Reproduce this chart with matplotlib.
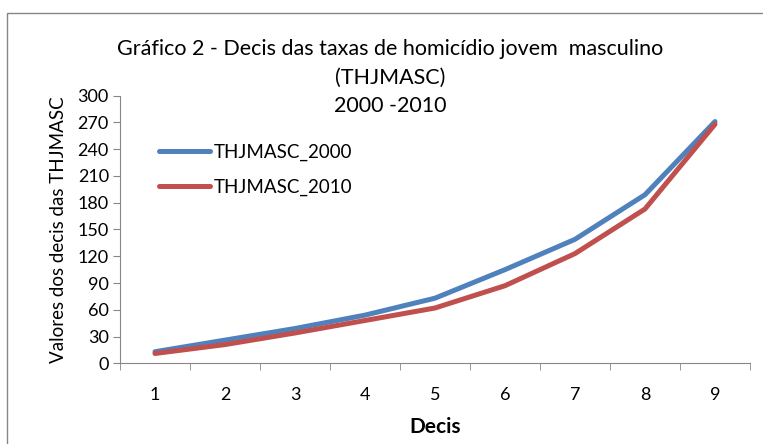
import numpy as np
import matplotlib
matplotlib.use('Agg')
import matplotlib.pyplot as plt
from matplotlib.patches import Rectangle

plt.rcParams['font.family'] = ['Lato', 'DejaVu Sans']

decis = [1, 2, 3, 4, 5, 6, 7, 8, 9]
thjmasc_2000 = [13, 26, 39, 54, 73, 105, 139, 189, 271]
thjmasc_2010 = [11, 21, 34, 48, 62, 87, 123, 173, 268]
yticks = list(range(0, 301, 30))

fig = plt.figure(figsize=(7.63, 4.44), dpi=100)
ax = fig.add_axes([120/763, 1 - 363.3/444, 630/763, 267.6/444])

ax.plot(decis, thjmasc_2000, color='#4F81BD', lw=3.6, solid_capstyle='round', label='THJMASC_2000')
ax.plot(decis, thjmasc_2010, color='#C0504D', lw=3.6, solid_capstyle='round', label='THJMASC_2010')

ax.set_xlim(0.5, 9.5)
ax.set_ylim(0, 300)
ax.set_yticks(yticks)
ax.set_xticks(decis)
ax.set_xticks(np.arange(0.5, 10, 1), minor=True)
ax.tick_params(axis='x', which='major', length=0, pad=17, labelsize=13)
ax.tick_params(axis='x', which='minor', length=5, color='#868686', direction='out')
ax.tick_params(axis='y', length=5, color='#868686', labelsize=13, pad=3)

for s in ['top', 'right']:
    ax.spines[s].set_visible(False)
for s in ['left', 'bottom']:
    ax.spines[s].set_color('#868686')

ax.set_ylabel('Valores dos decis das THJMASC', fontsize=13.5, labelpad=8)
ax.set_xlabel('Decis', fontsize=15, fontweight='bold', labelpad=10)

fig.text(390/763, 1 - 49/444, 'Gráfico 2 - Decis das taxas de homicídio jovem  masculino',
         ha='center', va='center', fontsize=15.5)
fig.text(390/763, 1 - 78/444, '(THJMASC)', ha='center', va='center', fontsize=15.5)
fig.text(390/763, 1 - 106/444, '2000 -2010', ha='center', va='center', fontsize=15.5)

leg = ax.legend(loc='upper left', bbox_to_anchor=(0.035, 0.885), frameon=False,
                fontsize=13.5, handlelength=2.7, handletextpad=0.25, labelspacing=0.95)

fig.patches.append(Rectangle((7/763, -0.1), 2, 1 - 13/444 + 0.1, fill=False,
                             edgecolor='#868686', lw=1, transform=fig.transFigure))

fig.savefig('out.png', dpi=100)
